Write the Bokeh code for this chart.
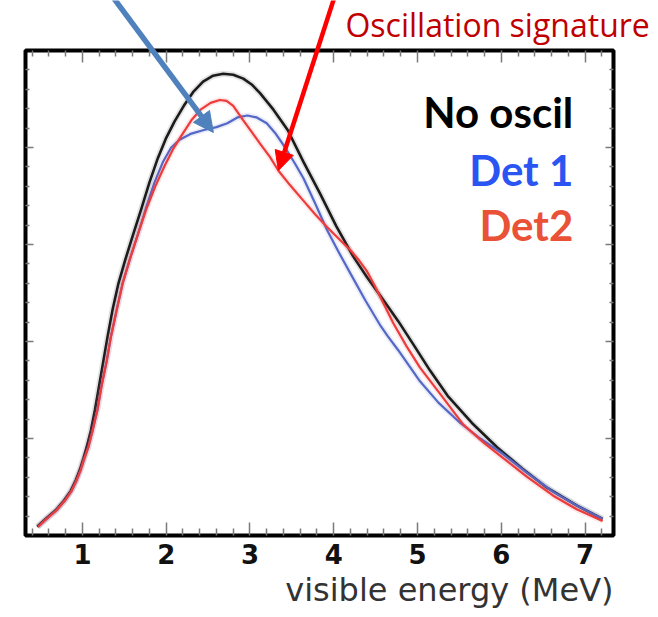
from bokeh.plotting import figure
from bokeh.models import Range1d, FixedTicker, LinearAxis, Label, Arrow, NormalHead
from bokeh.embed import file_html
from bokeh.resources import INLINE

# ---- data (visible energy in MeV, arbitrary units) ----
no_osc_e = [0.46, 0.56, 0.68, 0.78, 0.86, 0.92, 0.97, 1.01, 1.05, 1.10, 1.15, 1.20, 1.25, 1.30,
            1.36, 1.43, 1.51, 1.60, 1.70, 1.80, 1.90, 2.00, 2.10, 2.21, 2.32, 2.44, 2.56, 2.68,
            2.80, 2.92, 3.02, 3.12, 3.28, 3.45, 3.64, 3.84, 4.03, 4.23, 4.40, 4.59, 4.77, 4.95,
            5.15, 5.36, 5.65, 5.95, 6.25, 6.55, 6.90, 7.21]
no_osc_y = [0.09, 0.17, 0.26, 0.36, 0.46, 0.57, 0.68, 0.79, 0.91, 1.08, 1.30, 1.55, 1.80, 2.05,
            2.33, 2.60, 2.84, 3.09, 3.36, 3.64, 3.89, 4.10, 4.27, 4.43, 4.57, 4.68, 4.74, 4.76,
            4.75, 4.71, 4.65, 4.56, 4.39, 4.18, 3.85, 3.52, 3.19, 2.88, 2.66, 2.43, 2.21, 1.97,
            1.70, 1.44, 1.16, 0.91, 0.69, 0.49, 0.31, 0.17]

det1_e = [0.47, 0.57, 0.69, 0.79, 0.87, 0.93, 0.98, 1.02, 1.07, 1.12, 1.18, 1.23, 1.29, 1.34,
          1.41, 1.48, 1.57, 1.66, 1.76, 1.86, 1.96, 2.06, 2.16, 2.29, 2.45, 2.60, 2.73, 2.85,
          2.97, 3.08, 3.20, 3.30, 3.42, 3.54, 3.64, 3.78, 3.92, 4.06, 4.20, 4.38, 4.56, 4.64,
          4.77, 5.03, 5.25, 5.51, 5.75, 6.02, 6.30, 6.62, 6.90, 7.21]
det1_y = [0.09, 0.17, 0.26, 0.36, 0.46, 0.57, 0.68, 0.79, 0.91, 1.08, 1.30, 1.55, 1.80, 2.05,
          2.33, 2.60, 2.86, 3.10, 3.38, 3.64, 3.85, 4.00, 4.08, 4.14, 4.18, 4.21, 4.25, 4.31,
          4.33, 4.31, 4.25, 4.15, 4.00, 3.83, 3.68, 3.42, 3.15, 2.92, 2.70, 2.42, 2.16, 2.06,
          1.91, 1.59, 1.37, 1.16, 1.00, 0.84, 0.65, 0.45, 0.31, 0.17]

det2_e = [0.47, 0.57, 0.69, 0.79, 0.87, 0.93, 0.98, 1.02, 1.07, 1.12, 1.18, 1.23, 1.29, 1.34,
          1.41, 1.48, 1.57, 1.66, 1.76, 1.87, 1.98, 2.08, 2.18, 2.30, 2.41, 2.53, 2.64, 2.72,
          2.80, 2.92, 3.02, 3.12, 3.24, 3.34, 3.48, 3.64, 3.78, 3.92, 4.06, 4.20, 4.30, 4.40,
          4.48, 4.56, 4.71, 4.87, 5.03, 5.27, 5.55, 5.80, 6.02, 6.30, 6.62, 6.90, 7.21]
det2_y = [0.09, 0.17, 0.26, 0.36, 0.46, 0.57, 0.68, 0.79, 0.91, 1.08, 1.30, 1.55, 1.80, 2.05,
          2.33, 2.60, 2.86, 3.10, 3.36, 3.60, 3.81, 3.98, 4.12, 4.28, 4.39, 4.46, 4.49, 4.48,
          4.43, 4.28, 4.16, 4.04, 3.90, 3.76, 3.61, 3.45, 3.31, 3.18, 3.06, 2.94, 2.84, 2.72,
          2.59, 2.45, 2.19, 1.95, 1.73, 1.46, 1.14, 0.95, 0.80, 0.61, 0.41, 0.27, 0.15]

x_major = [1, 2, 3, 4, 5, 6, 7]
x_minor = [0.4, 0.6, 0.8, 1.2, 1.4, 1.6, 1.8, 2.2, 2.4, 2.6, 2.8, 3.2, 3.4, 3.6, 3.8,
           4.2, 4.4, 4.6, 4.8, 5.2, 5.4, 5.6, 5.8, 6.2, 6.4, 6.6, 6.8, 7.2]
y_major = [1, 2, 3, 4]
y_minor = [0.2, 0.4, 0.6, 0.8, 1.2, 1.4, 1.6, 1.8, 2.2, 2.4, 2.6, 2.8, 3.2, 3.4, 3.6, 3.8,
           4.2, 4.4, 4.6, 4.8]

series_names = ["No oscil", "Det 1", "Det2"]
x_title = "visible energy (MeV)"
annotation_text = "Oscillation signature"

# ---- layout: plot box limits and where the box sits on the canvas ----
W, H = 658, 617
X0, X1 = 0.32, 7.34          # data limits of the drawn box
Y0, Y1 = 0.0, 5.0
BOX_L, BOX_R, BOX_T, BOX_B = 25, 613, 50, 535   # box position in canvas pixels
sx = (BOX_R - BOX_L) / (X1 - X0)
sy = (BOX_B - BOX_T) / (Y1 - Y0)
xr = Range1d(X0 - BOX_L / sx, X1 + (W - BOX_R) / sx)
yr = Range1d(Y0 - (H - BOX_B) / sy, Y1 + BOX_T / sy)

p = figure(width=W, height=H, x_range=xr, y_range=yr,
           output_backend="svg", toolbar_location=None,
           x_axis_location=None, y_axis_location=None,
           min_border=0)
p.grid.grid_line_color = None
p.outline_line_color = None
p.background_fill_color = "white"
p.border_fill_color = "white"


def make_axis(kind, loc, tick_in, minor_in, labels=False):
    horiz = kind == "x"
    ax = LinearAxis(fixed_location=loc,
                    ticker=FixedTicker(ticks=x_major if horiz else y_major,
                                       minor_ticks=x_minor if horiz else y_minor))
    ax.axis_line_color = None
    ax.major_tick_in = tick_in
    ax.major_tick_out = 0
    ax.minor_tick_in = minor_in
    ax.minor_tick_out = 0
    ax.major_tick_line_color = "#7a7a7a"
    ax.minor_tick_line_color = "#7a7a7a"
    ax.major_tick_line_width = 1.5
    ax.minor_tick_line_width = 1.5
    if labels:
        ax.major_label_text_font = "DejaVu Sans"
        ax.major_label_text_font_style = "bold"
        ax.major_label_text_font_size = "26px"
        ax.major_label_text_color = "#111111"
        ax.major_label_standoff = 8
    else:
        ax.major_label_text_color = None
    return ax


p.add_layout(make_axis("x", Y0, 13, 7, labels=True), "below")
p.add_layout(make_axis("x", Y1, 12, 6), "above")
p.add_layout(make_axis("y", X0, 8, 4), "left")
p.add_layout(make_axis("y", X1, 8, 4), "right")

# plot box
p.quad(left=[X0], right=[X1], bottom=[Y0], top=[Y1], fill_color=None,
       line_color="black", line_width=4)

# soft halo + lines
for ex, ey, col, w in [(no_osc_e, no_osc_y, "#1c1c1c", 2.6),
                       (det1_e, det1_y, "#5468C8", 2.2),
                       (det2_e, det2_y, "#EE3B3B", 2.2)]:
    p.line(ex, ey, line_color=col, line_width=w + 3.5, line_alpha=0.12, line_join="round")
    p.line(ex, ey, line_color=col, line_width=w, line_join="round")

# legend-like labels
label_colors = ["#000000", "#2B55F2", "#EA5237"]
label_y = [4.366, 3.763, 3.196]
for name, col, yy in zip(series_names, label_colors, label_y):
    p.add_layout(Label(x=6.86, y=yy, text=name, text_align="right", text_baseline="alphabetic",
                       text_font="Lato", text_font_style="bold", text_font_size="42px",
                       text_color=col))

p.add_layout(Label(x=X1, y=-0.567, text=x_title, text_align="right", text_baseline="alphabetic",
                   text_font="DejaVu Sans", text_font_size="32px", text_color="#333333"))

p.add_layout(Label(x=4.14, y=5.265, text=annotation_text, text_align="left",
                   text_baseline="alphabetic", text_font="Open Sans", text_font_size="32px",
                   text_color="#C00000"))

# arrows
p.add_layout(Arrow(x_start=1.321, y_start=5.60, x_end=2.563, y_end=4.155,
                   line_color="#4F81BD", line_width=5.5,
                   end=NormalHead(size=20, fill_color="#4F81BD", line_color="#4F81BD")))
p.add_layout(Arrow(x_start=4.027, y_start=5.60, x_end=3.339, y_end=3.763,
                   line_color="#FF0000", line_width=4.5,
                   end=NormalHead(size=19, fill_color="#FF0000", line_color="#FF0000")))

open("out.html", "w").write(file_html(p, INLINE))
